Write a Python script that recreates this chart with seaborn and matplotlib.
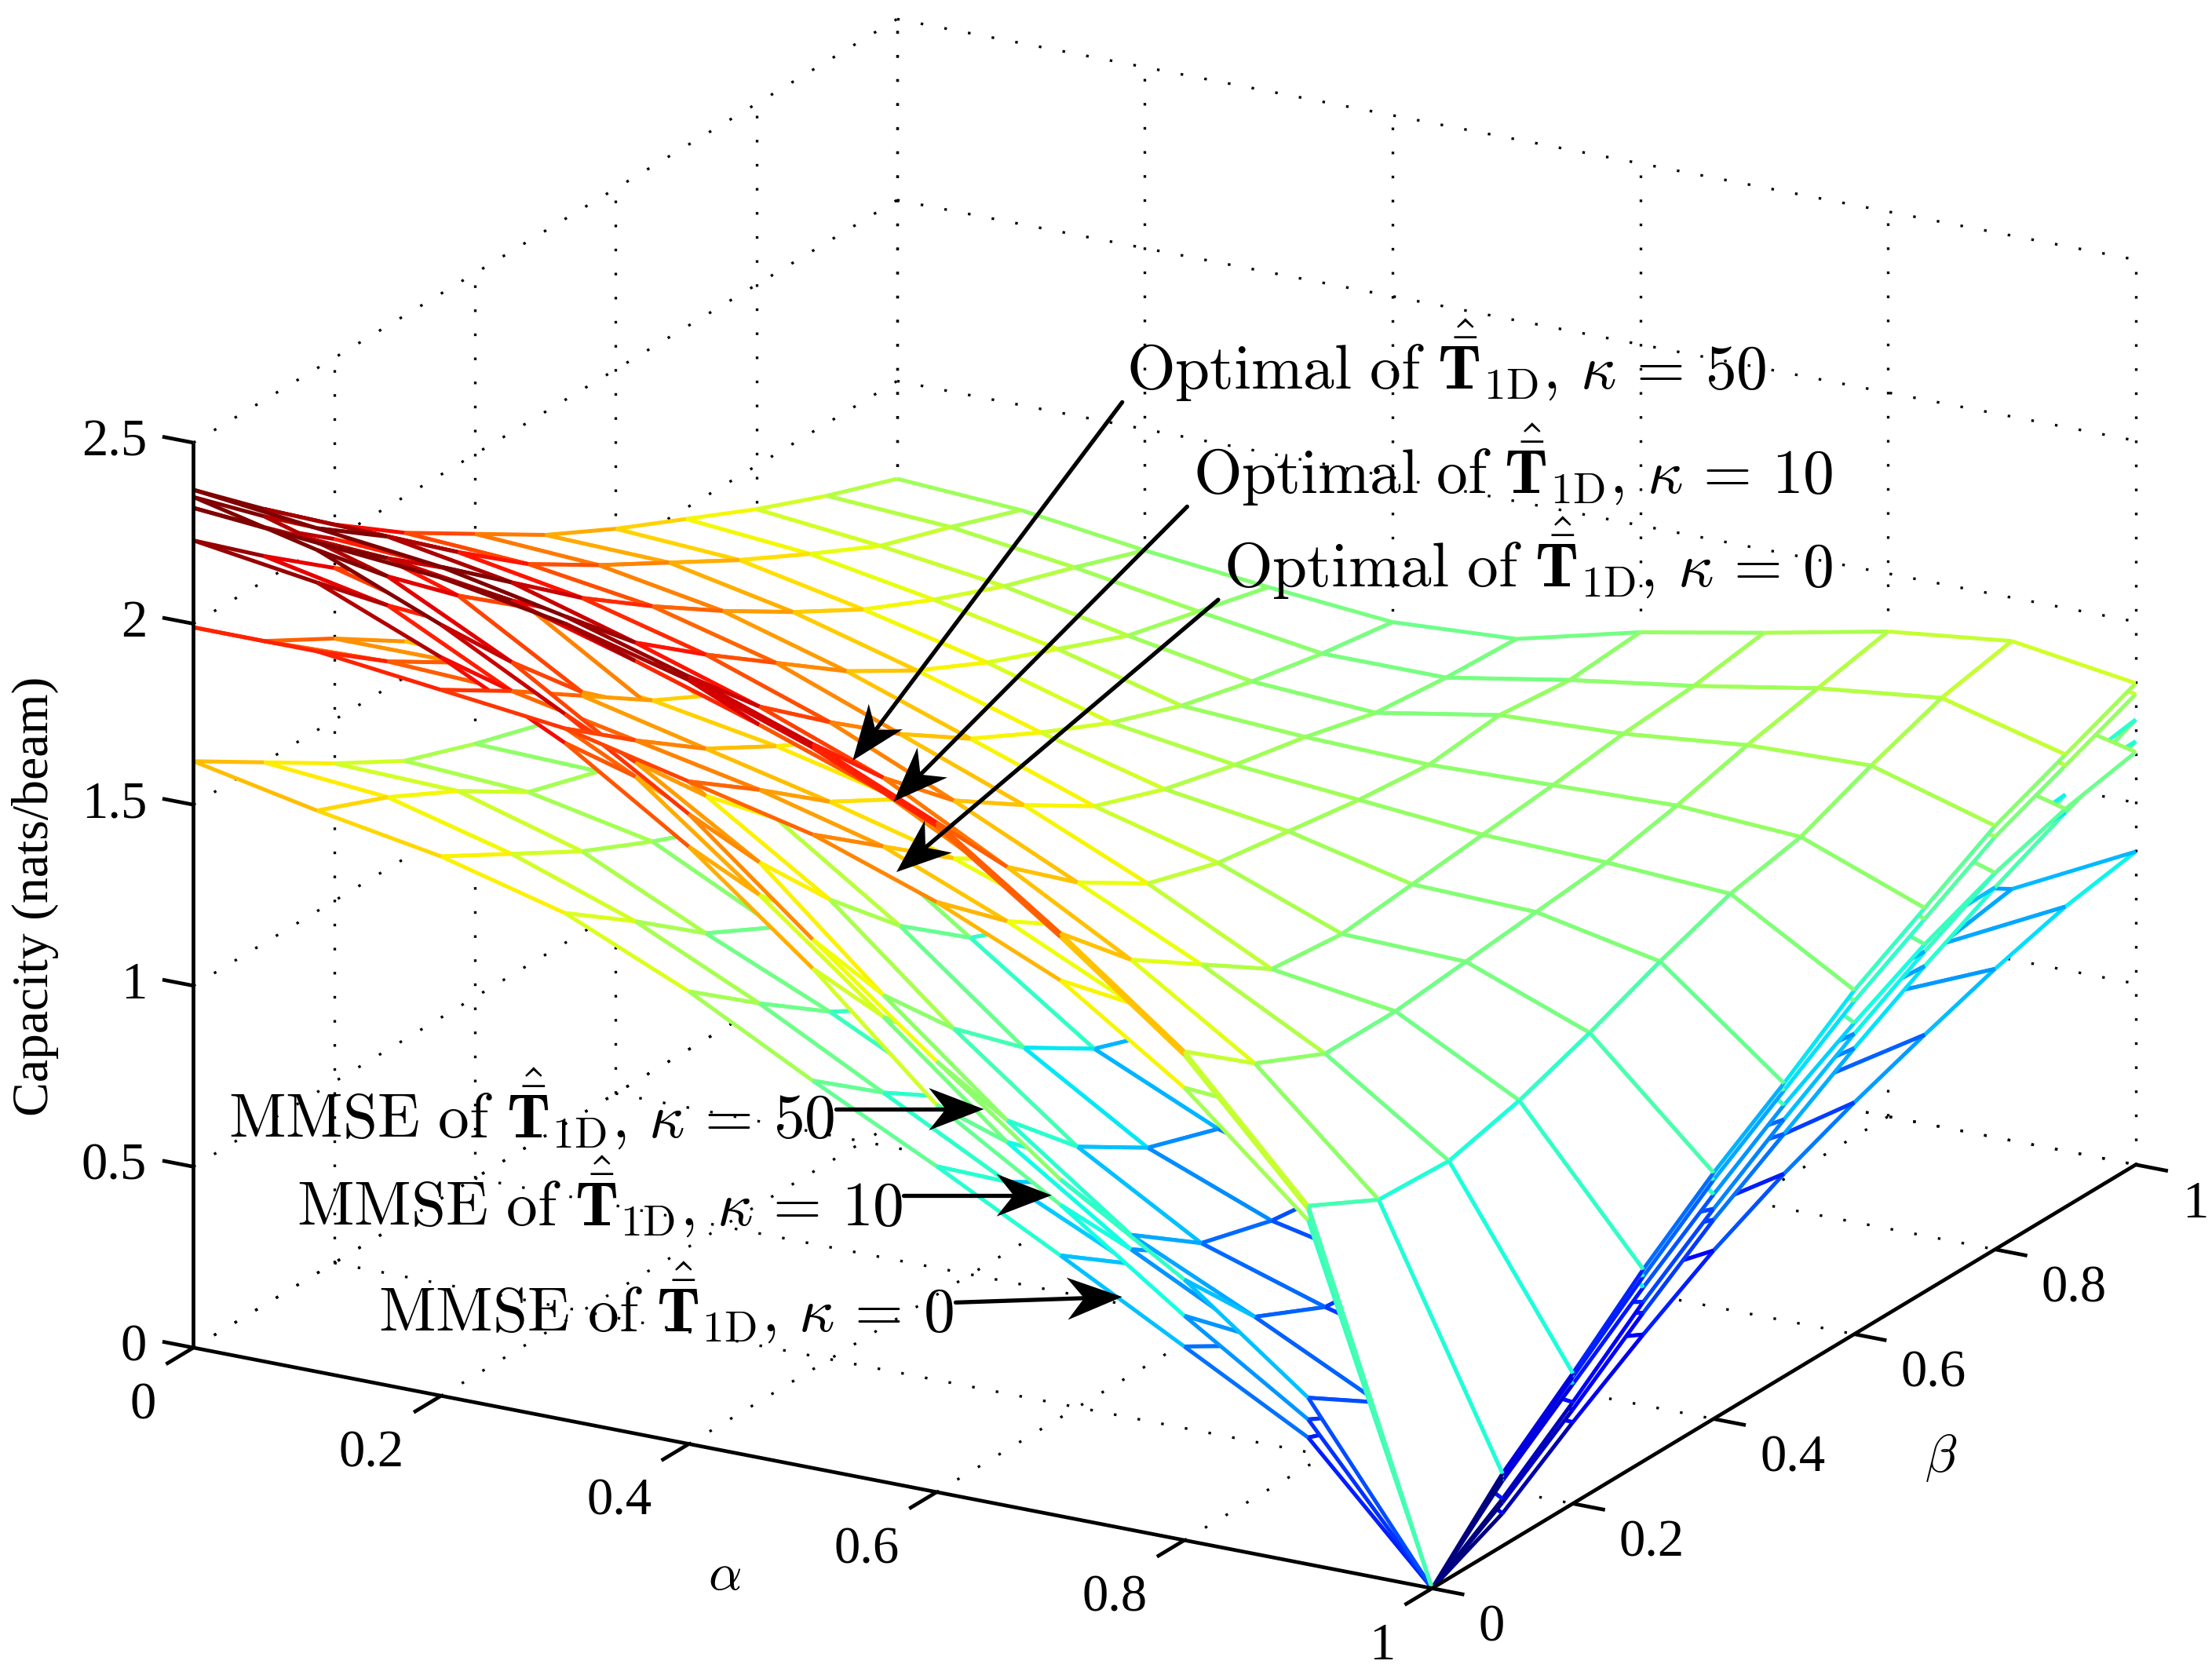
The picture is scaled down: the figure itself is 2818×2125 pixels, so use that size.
import numpy as np
import matplotlib
matplotlib.use("Agg")
import matplotlib.pyplot as plt
import seaborn as sns
from matplotlib.lines import Line2D
from matplotlib.patches import Polygon
from matplotlib.transforms import Affine2D
from mpl_toolkits.mplot3d import proj3d
from mpl_toolkits.mplot3d.art3d import Poly3DCollection

# rows are alpha, columns are beta
alpha_vals = [0, 0.1, 0.2, 0.3, 0.4, 0.5, 0.6, 0.7, 0.8, 0.9, 1]
beta_vals = [0, 0.1, 0.2, 0.3, 0.4, 0.5, 0.6, 0.7, 0.8, 0.9, 1]

opt_k50 = [
    [2.37, 2.20, 2.04, 1.90, 1.78, 1.66, 1.56, 1.47, 1.38, 1.30, 1.23],
    [2.33, 2.19, 2.03, 1.88, 1.76, 1.65, 1.54, 1.44, 1.345, 1.28, 1.21],
    [2.29, 2.13, 1.97, 1.83, 1.70, 1.58, 1.47, 1.38, 1.30, 1.235, 1.165],
    [2.22, 2.03, 1.88, 1.74, 1.60, 1.485, 1.39, 1.31, 1.23, 1.18, 1.13],
    [2.12, 1.92, 1.76, 1.61, 1.48, 1.38, 1.29, 1.22, 1.17, 1.13, 1.10],
    [2.00, 1.79, 1.61, 1.48, 1.36, 1.29, 1.24, 1.20, 1.15, 1.13, 1.12],
    [1.85, 1.61, 1.45, 1.33, 1.27, 1.24, 1.21, 1.19, 1.21, 1.19, 1.205],
    [1.61, 1.42, 1.29, 1.16, 1.14, 1.16, 1.18, 1.20, 1.225, 1.24, 1.27],
    [1.35, 1.20, 1.11, 1.11, 1.13, 1.15, 1.17, 1.21, 1.26, 1.30, 1.34],
    [0.99, 0.89, 0.88, 0.93, 1.00, 1.08, 1.15, 1.19, 1.27, 1.34, 1.38],
    [0, 0.20, 0.36, 0.53, 0.68, 0.81, 0.95, 1.06, 1.17, 1.25, 1.33],
]
opt_k10 = [
    [2.32, 2.15, 2.00, 1.85, 1.73, 1.61, 1.52, 1.43, 1.35, 1.27, 1.20],
    [2.29, 2.13, 1.98, 1.83, 1.71, 1.60, 1.50, 1.40, 1.32, 1.25, 1.18],
    [2.26, 2.08, 1.92, 1.78, 1.65, 1.54, 1.43, 1.34, 1.26, 1.20, 1.14],
    [2.20, 1.98, 1.83, 1.69, 1.56, 1.45, 1.35, 1.27, 1.20, 1.15, 1.10],
    [2.11, 1.87, 1.71, 1.57, 1.44, 1.34, 1.26, 1.19, 1.14, 1.10, 1.07],
    [1.99, 1.75, 1.57, 1.44, 1.33, 1.26, 1.21, 1.17, 1.13, 1.11, 1.10],
    [1.84, 1.57, 1.41, 1.30, 1.24, 1.21, 1.18, 1.17, 1.18, 1.17, 1.18],
    [1.60, 1.38, 1.26, 1.13, 1.11, 1.13, 1.15, 1.17, 1.20, 1.21, 1.24],
    [1.34, 1.17, 1.08, 1.08, 1.10, 1.12, 1.14, 1.18, 1.23, 1.27, 1.31],
    [0.98, 0.86, 0.85, 0.90, 0.97, 1.05, 1.12, 1.16, 1.24, 1.31, 1.35],
    [0, 0.19, 0.35, 0.51, 0.66, 0.79, 0.92, 1.03, 1.14, 1.22, 1.30],
]
opt_k0 = [
    [1.99, 1.835, 1.725, 1.60, 1.50, 1.41, 1.33, 1.26, 1.20, 1.14, 1.09],
    [1.99, 1.845, 1.725, 1.60, 1.50, 1.41, 1.32, 1.25, 1.19, 1.13, 1.08],
    [1.95, 1.83, 1.70, 1.57, 1.47, 1.38, 1.30, 1.23, 1.17, 1.11, 1.07],
    [1.91, 1.76, 1.62, 1.51, 1.41, 1.33, 1.26, 1.19, 1.13, 1.08, 1.04],
    [1.83, 1.69, 1.54, 1.43, 1.34, 1.26, 1.20, 1.14, 1.09, 1.05, 1.03],
    [1.75, 1.60, 1.45, 1.33, 1.24, 1.18, 1.14, 1.11, 1.07, 1.05, 1.05],
    [1.63, 1.46, 1.33, 1.21, 1.15, 1.11, 1.09, 1.08, 1.09, 1.10, 1.12],
    [1.48, 1.30, 1.18, 1.07, 1.04, 1.05, 1.07, 1.09, 1.12, 1.15, 1.18],
    [1.25, 1.08, 1.00, 1.00, 1.02, 1.04, 1.07, 1.10, 1.14, 1.18, 1.22],
    [0.95, 0.80, 0.80, 0.84, 0.91, 0.98, 1.04, 1.08, 1.15, 1.19, 1.22],
    [0, 0.18, 0.33, 0.48, 0.62, 0.75, 0.86, 0.96, 1.04, 1.10, 1.14],
]
mmse_k50 = [
    [2.35, 2.18, 2.02, 1.87, 1.75, 1.63, 1.54, 1.45, 1.37, 1.29, 1.22],
    [2.27, 2.08, 1.91, 1.76, 1.62, 1.50, 1.39, 1.30, 1.22, 1.16, 1.10],
    [2.13, 1.91, 1.71, 1.55, 1.41, 1.29, 1.19, 1.11, 1.05, 1.00, 0.97],
    [1.95, 1.70, 1.49, 1.31, 1.17, 1.06, 0.97, 0.90, 0.85, 0.82, 0.81],
    [1.74, 1.49, 1.27, 1.08, 0.93, 0.85, 0.78, 0.72, 0.69, 0.68, 0.69],
    [1.46, 1.19, 0.98, 0.81, 0.69, 0.62, 0.58, 0.57, 0.58, 0.60, 0.63],
    [1.19, 0.91, 0.72, 0.60, 0.535, 0.50, 0.49, 0.51, 0.55, 0.60, 0.66],
    [0.93, 0.66, 0.52, 0.465, 0.44, 0.44, 0.47, 0.52, 0.58, 0.65, 0.73],
    [0.72, 0.50, 0.41, 0.39, 0.41, 0.45, 0.51, 0.58, 0.66, 0.74, 0.81],
    [0.46, 0.33, 0.32, 0.37, 0.44, 0.52, 0.60, 0.68, 0.75, 0.83, 0.90],
    [0, 0.13, 0.28, 0.44, 0.58, 0.71, 0.83, 0.94, 1.04, 1.14, 1.23],
]
mmse_k10 = [
    [2.23, 2.07, 1.92, 1.78, 1.66, 1.55, 1.46, 1.38, 1.31, 1.24, 1.18],
    [2.18, 2.00, 1.83, 1.68, 1.55, 1.43, 1.33, 1.24, 1.17, 1.11, 1.05],
    [2.04, 1.83, 1.65, 1.49, 1.35, 1.24, 1.14, 1.06, 1.00, 0.95, 0.92],
    [1.87, 1.66, 1.42, 1.26, 1.12, 1.01, 0.93, 0.86, 0.81, 0.78, 0.77],
    [1.65, 1.40, 1.20, 1.03, 0.88, 0.80, 0.74, 0.69, 0.66, 0.65, 0.66],
    [1.38, 1.13, 0.93, 0.77, 0.65, 0.59, 0.55, 0.54, 0.55, 0.57, 0.60],
    [1.07, 0.85, 0.68, 0.56, 0.50, 0.47, 0.46, 0.48, 0.52, 0.57, 0.63],
    [0.86, 0.62, 0.49, 0.44, 0.42, 0.42, 0.45, 0.49, 0.55, 0.62, 0.70],
    [0.62, 0.445, 0.38, 0.36, 0.38, 0.42, 0.48, 0.55, 0.63, 0.71, 0.78],
    [0.40, 0.30, 0.29, 0.34, 0.41, 0.49, 0.57, 0.65, 0.72, 0.80, 0.89],
    [0, 0.12, 0.26, 0.41, 0.55, 0.67, 0.79, 0.90, 1.00, 1.09, 1.17],
]
mmse_k0 = [
    [1.62, 1.50, 1.38, 1.27, 1.20, 1.14, 1.08, 1.03, 0.99, 0.95, 0.92],
    [1.55, 1.47, 1.37, 1.25, 1.19, 1.12, 1.05, 1.00, 0.95, 0.91, 0.88],
    [1.49, 1.38, 1.27, 1.18, 1.10, 1.02, 0.96, 0.91, 0.87, 0.84, 0.81],
    [1.40, 1.26, 1.11, 1.01, 0.92, 0.85, 0.80, 0.76, 0.73, 0.71, 0.70],
    [1.25, 1.10, 0.96, 0.85, 0.77, 0.70, 0.65, 0.62, 0.60, 0.59, 0.60],
    [1.07, 0.92, 0.79, 0.68, 0.60, 0.55, 0.52, 0.50, 0.50, 0.52, 0.55],
    [0.90, 0.74, 0.62, 0.53, 0.47, 0.43, 0.42, 0.43, 0.46, 0.50, 0.55],
    [0.72, 0.58, 0.48, 0.40, 0.35, 0.34, 0.36, 0.40, 0.46, 0.52, 0.58],
    [0.535, 0.42, 0.36, 0.32, 0.31, 0.33, 0.38, 0.44, 0.51, 0.58, 0.64],
    [0.35, 0.275, 0.24, 0.25, 0.29, 0.35, 0.42, 0.50, 0.63, 0.66, 0.695],
    [0, 0.09, 0.225, 0.35, 0.465, 0.56, 0.64, 0.71, 0.775, 0.83, 0.865],
]
surfaces = [opt_k50, opt_k10, opt_k0, mmse_k50, mmse_k10, mmse_k0]

alpha_ticks = [0, 0.2, 0.4, 0.6, 0.8, 1]
beta_ticks = [0, 0.2, 0.4, 0.6, 0.8, 1]
z_ticks = [0, 0.5, 1, 1.5, 2, 2.5]
z_ticklabels = ["0", "0.5", "1", "1.5", "2", "2.5"]
tick_fmt = ["0", "0.2", "0.4", "0.6", "0.8", "1"]

T = r"\hat{\bar{\mathbf{T}}}_{\mathrm{1D}}"
opt_labels = [
    (r"$\mathrm{Optimal\ of}\ " + T + r",\,\kappa\,=\,50$", 798, 276),
    (r"$\mathrm{Optimal\ of}\ " + T + r",\,\kappa\,=\,10$", 845, 350),
    (r"$\mathrm{Optimal\ of}\ " + T + r",\,\kappa\,=\,0$", 867, 416),
    (r"$\mathrm{MMSE\ of}\ " + T + r",\,\kappa\,=\,50$", 162, 806),
    (r"$\mathrm{MMSE\ of}\ " + T + r",\,\kappa\,=\,10$", 210, 868),
    (r"$\mathrm{MMSE\ of}\ " + T + r",\,\kappa\,=\,0$", 268, 943),
]
arrows = [
    ((795, 285), (604, 539)),
    ((841, 359), (633, 568)),
    ((863, 425), (635, 618)),
    ((592, 786), (697, 786)),
    ((640, 847), (745, 847)),
    ((677, 923), (795, 919)),
]

sns.set_theme(style="white")
plt.rcParams["font.family"] = ["Liberation Serif", "DejaVu Serif"]
plt.rcParams["mathtext.fontset"] = "cm"
plt.rcParams["text.color"] = "black"
jet = matplotlib.colormaps["jet"]
z_top = 2.28  # colour scale top, reds in the picture come early

fig = plt.figure(figsize=(14.09, 10.625), dpi=200)
side = 14.09 / 10.625
ax = fig.add_axes([0, (1 - side) / 2, 1, side], projection="3d", proj_type="ortho")
ax.computed_zorder = False
ax.patch.set_alpha(0)
ax.set_axis_off()
ax.set_xlim(0, 1, view_margin=0)
ax.set_ylim(0, 1, view_margin=0)
ax.set_zlim(0, 2.5, view_margin=0)
azim = -60.4
ax.view_init(elev=20, azim=azim)

# reference pixels (1567 wide picture) -> figure
ref = Affine2D().scale(1 / 1567, -1 / 1182).translate(0, 1) + fig.transFigure


def to_screen(x, y, z):
    x2, y2, _ = proj3d.proj_transform(x, y, z, ax.get_proj())
    return ax.transData.transform((x2, y2))


def label3d(x, y, z, s, **kw):
    x2, y2, _ = proj3d.proj_transform(x, y, z, ax.get_proj())
    ax.text2D(x2, y2, s, transform=ax.transData, **kw)


# fit the box on the reference corners
zoom = 1.0
aspect = (1, 1, 0.676)
ax.set_box_aspect(aspect, zoom=zoom)
ax.apply_aspect()
w = to_screen(1, 1, 0)[0] - to_screen(0, 0, 0)[0]
zoom = zoom * (1376 / 1567 * fig.bbox.width) / w
ax.set_box_aspect(aspect, zoom=zoom)
want = ref.transform((137, 955))
got = to_screen(0, 0, 0)
pos = ax.get_position()
ax.set_position([pos.x0 + (want[0] - got[0]) / fig.bbox.width,
                 pos.y0 + (want[1] - got[1]) / fig.bbox.height,
                 pos.width, pos.height])
ax.apply_aspect()

# dotted grid on floor and the two back walls
dots = dict(color="black", lw=1.2, ls=(0, (1, 8.2)), zorder=1)
for a in alpha_ticks:
    ax.plot([a, a], [0, 1], [0, 0], **dots)
    ax.plot([a, a], [1, 1], [0, 2.5], **dots)
for b in beta_ticks:
    ax.plot([0, 1], [b, b], [0, 0], **dots)
    if b > 0:
        ax.plot([0, 0], [b, b], [0, 2.5], **dots)
for z in z_ticks:
    ax.plot([0, 1], [1, 1], [z, z], **dots)
    ax.plot([0, 0], [0, 1], [z, z], **dots)

# white faced mesh, each edge flat coloured by its first vertex like matlab mesh().
# painter order goes by position on the floor, far to near, then low to high
ca, sa = np.cos(np.radians(azim)), np.sin(np.radians(azim))
clear = (1, 1, 1, 0)
items = []
for surf in surfaces:
    zz = np.array(surf)
    n_a, n_b = zz.shape
    for i in range(n_a - 1):
        for j in range(n_b - 1):
            p0 = (alpha_vals[i], beta_vals[j], zz[i, j])
            p1 = (alpha_vals[i + 1], beta_vals[j], zz[i + 1, j])
            p2 = (alpha_vals[i + 1], beta_vals[j + 1], zz[i + 1, j + 1])
            p3 = (alpha_vals[i], beta_vals[j + 1], zz[i, j + 1])
            c = jet(zz[i, j] / z_top)
            key = round(ca * (alpha_vals[i] + 0.05) + sa * (beta_vals[j] + 0.05), 6)
            zm = (p0[2] + p1[2] + p2[2] + p3[2]) / 4
            items.append((key, zm, 0, [p0, p1, p2, p3], clear))
            # sides shared with cells painted earlier go again on top
            items.append((key, zm, 1, [p1, p2, p2, p1], jet(zz[i + 1, j] / z_top)))
            items.append((key, zm, 1, [p3, p2, p2, p3], jet(zz[i, j + 1] / z_top)))
            items.append((key, zm, 1, [p0, p1, p1, p0], c))
            items.append((key, zm, 1, [p0, p3, p3, p0], c))

items.sort(key=lambda t: (t[0], t[1], t[2]))
polys = [t[3] for t in items]
edge_cols = [t[4] for t in items]
mesh = Poly3DCollection(polys, facecolors="white", edgecolors=edge_cols, linewidths=1.8, zorder=2)
# keep the order built above (the sort inside is stable)
mesh._zsortfunc = lambda zs: 0.0
ax.add_collection3d(mesh, autolim=False)

# solid axes lines and ticks
solid = dict(color="black", lw=1.7, zorder=3, solid_capstyle="butt")
ax.plot([0, 1], [0, 0], [0, 0], **solid)
ax.plot([1, 1], [0, 1], [0, 0], **solid)
ax.plot([0, 0], [0, 0], [0, 2.5], **solid)
for a, lab in zip(alpha_ticks, tick_fmt):
    ax.plot([a, a], [0, -0.039], [0, 0], **solid)
    label3d(a + 0.036, -0.116, 0, lab, ha="right", va="center", fontsize=24, zorder=4)
for b, lab in zip(beta_ticks, tick_fmt):
    ax.plot([1, 1.026], [b, b], [0, 0], **solid)
    label3d(1.0685, b - 0.0545, 0, lab, ha="left", va="center", fontsize=24, zorder=4)
for z, lab in zip(z_ticks, z_ticklabels):
    ax.plot([0, -0.025], [0, 0], [z, z], **solid)
    label3d(-0.0376, 0, z - 0.025, lab, ha="right", va="center", fontsize=24, zorder=4)

fig.text(513, 1117, r"$\alpha$", transform=ref, ha="center", va="center", fontsize=24)
fig.text(1375, 1033, r"$\beta$", transform=ref, ha="center", va="center", fontsize=24)
fig.text(25, 635, "Capacity (nats/beam)", transform=ref, rotation=90, ha="center", va="center", fontsize=23.7)

for txt, x, y in opt_labels:
    fig.text(x, y, txt, transform=ref, ha="left", va="baseline", fontsize=28.6)

for tail, tip in arrows:
    tail, tip = np.array(tail, float), np.array(tip, float)
    d = (tip - tail) / np.linalg.norm(tip - tail)
    n = np.array([-d[1], d[0]])
    notch = tip - 27 * d
    fig.add_artist(Line2D([tail[0], notch[0]], [tail[1], notch[1]], color="black", lw=1.9, transform=ref))
    head = [tip, tip - 39 * d + 15 * n, notch, tip - 39 * d - 15 * n]
    fig.add_artist(Polygon(head, closed=True, facecolor="black", edgecolor="none", transform=ref))

fig.savefig("out.png", dpi=200)
